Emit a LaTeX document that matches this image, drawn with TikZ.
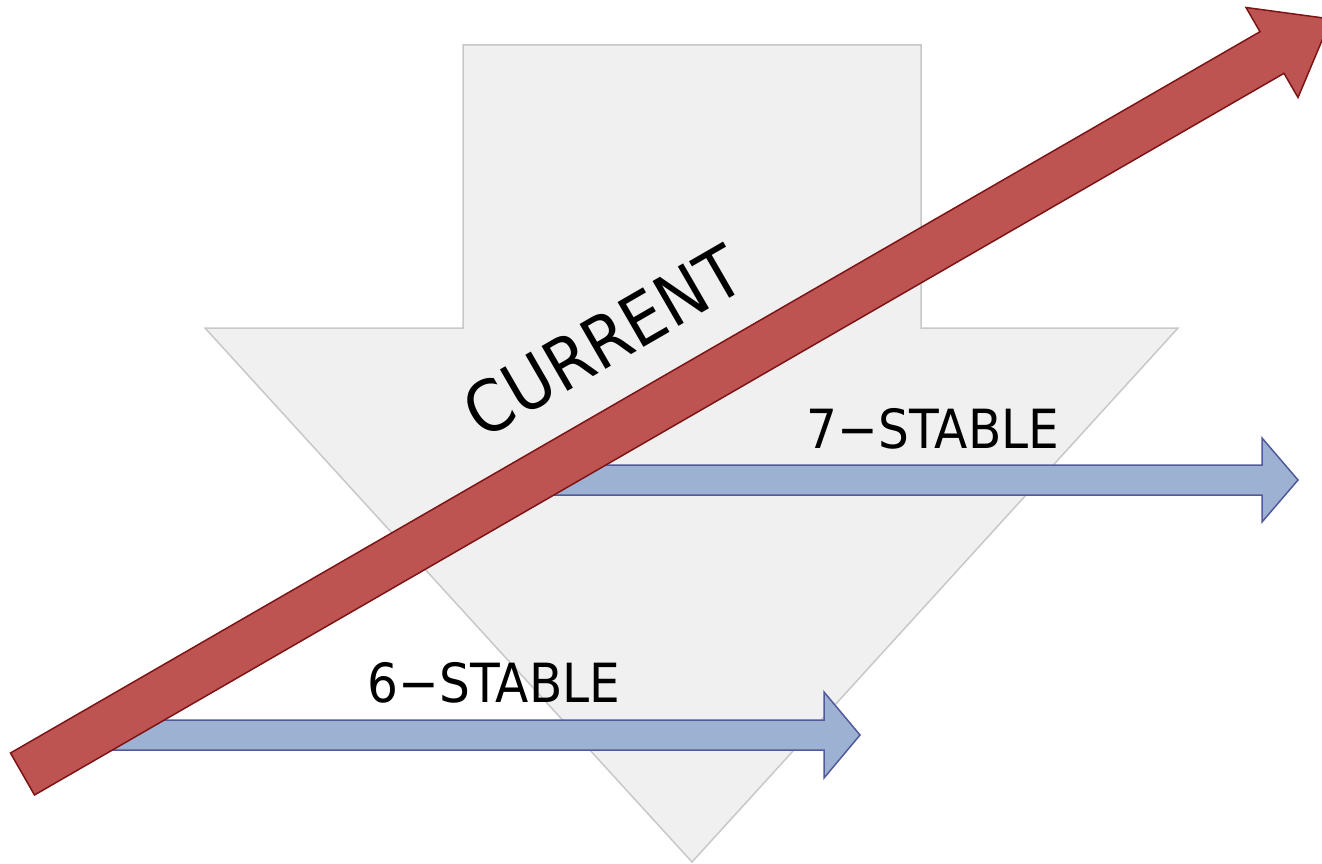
\documentclass[tikz,border=0pt]{standalone}
\usepackage{fontspec}
\newfontfamily\diagfont{DejaVu Sans Condensed}
\usetikzlibrary{calc}

\definecolor{blockfill}{RGB}{240,240,240}
\definecolor{blockedge}{RGB}{200,200,200}
\definecolor{currfill}{RGB}{190,84,82}
\definecolor{curredge}{RGB}{125,20,22}
\definecolor{stabfill}{RGB}{157,178,210}
\definecolor{stabedge}{RGB}{82,90,155}

\begin{document}
\begin{tikzpicture}[x=1pt,y=-1pt,
    block/.style={fill=blockfill,draw=blockedge,line width=1.5pt},
    currarrow/.style={fill=currfill,draw=curredge,line width=1.5pt},
    stabarrow/.style={fill=stabfill,draw=stabedge,line width=1.5pt},
    lbl/.style={inner sep=0pt,font=\diagfont\fontsize{54}{62}\selectfont}]
  \useasboundingbox (0,0) rectangle (1322,864);
  % big grey arrow pointing down
  \draw[block] (463,45) -- (921,45) -- (921,328) -- (1178,328) -- (692,862)
    -- (205,328) -- (463,328) -- cycle;
  % the two stable arrows
  \draw[stabarrow] (530,465) -- (1262,465) -- (1262,438) -- (1298,480)
    -- (1262,522) -- (1262,495) -- (530,495) -- cycle;
  \draw[stabarrow] (90,720) -- (824,720) -- (824,692) -- (860,735)
    -- (824,778) -- (824,750) -- (90,750) -- cycle;
  \node[lbl] (seven) at (933,429) {7−STABLE};
  \node[lbl] (six) at (494,683) {6−STABLE};
  % current, at 30 degrees
  \draw[currarrow] (10.5,753) -- (1260,31.7) -- (1246,7.5) -- (1331,19)
    -- (1298,97.5) -- (1284,73.3) -- (34.5,795) -- cycle;
  \node[lbl,font=\diagfont\fontsize{71}{82}\selectfont,rotate=30] (curr) at (603,341) {CURRENT};
\end{tikzpicture}
\end{document}
